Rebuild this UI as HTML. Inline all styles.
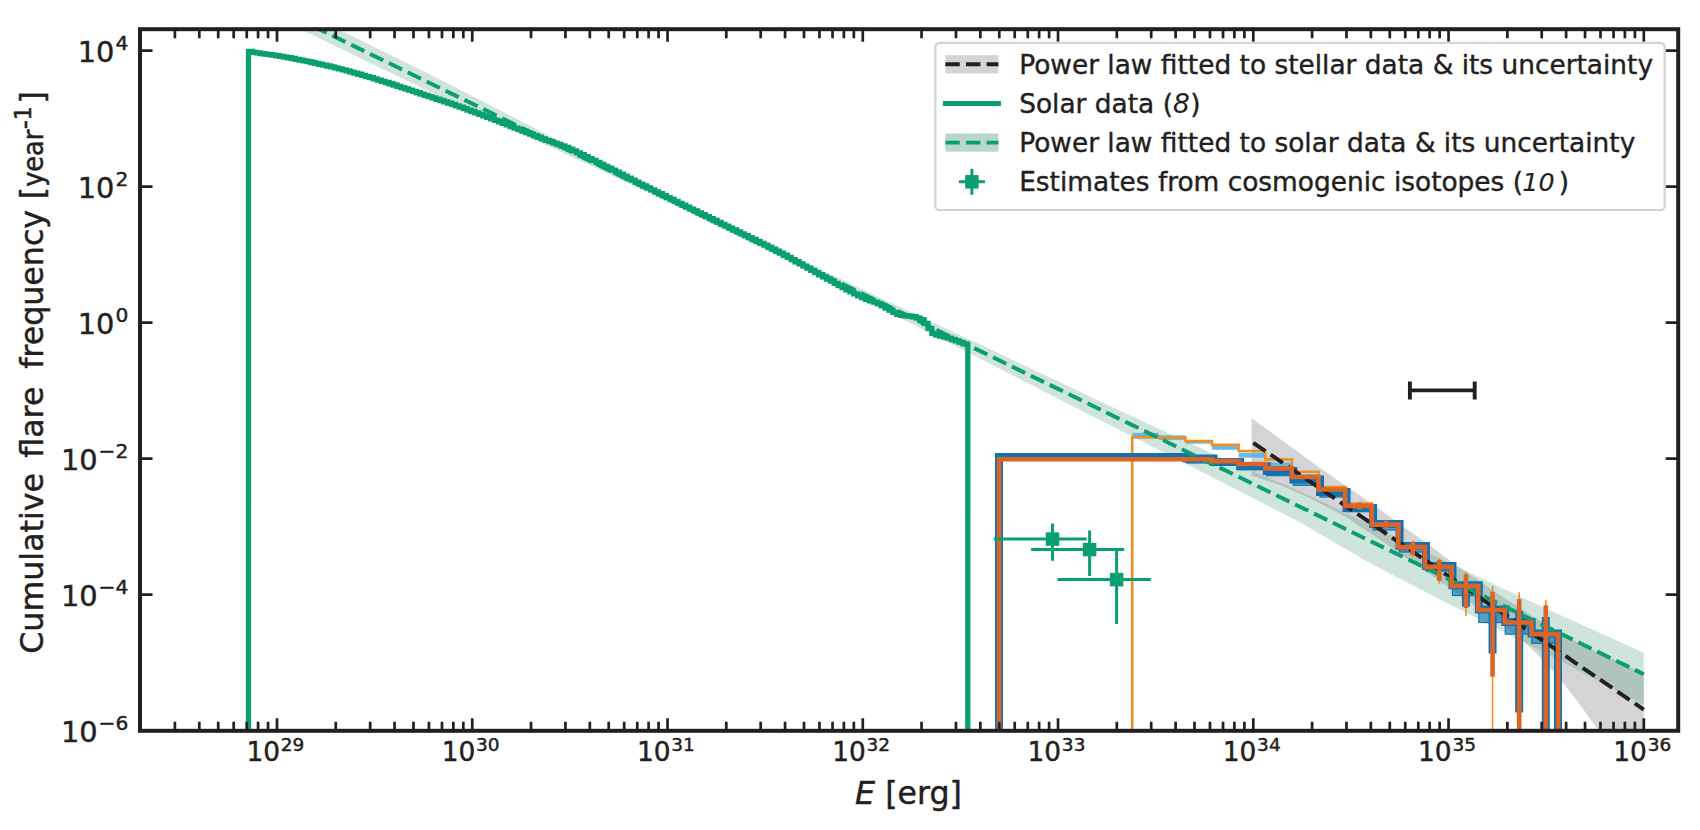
<!DOCTYPE html>
<html lang="en"><head><meta charset="utf-8"><title>Cumulative flare frequency</title>
<style>html,body{margin:0;padding:0;background:#fff}body{width:1700px;height:830px;overflow:hidden}</style></head>
<body>
<svg width="1700" height="830" viewBox="0 0 1700 830" style="display:block">
<rect width="1700" height="830" fill="#ffffff"/>
<defs><clipPath id="ax"><rect x="140.0" y="29.2" width="1538.2" height="701.5999999999999"/></clipPath></defs>
<g clip-path="url(#ax)">
<path d="M1251.5 418.07 L1320 467.96 L1375 505.92 L1401 524.98 L1430 545.49 L1456 565.24 L1500 595.3 L1561 633.96 L1600 653.6 L1643.8 673.51 L1643.8 849.51 L1625 788.67 L1610 752.43 L1596.6 727.97 L1578 702.07 L1560.5 679.82 L1545 662.03 L1523 640.51 L1503 625.35 L1470 602.31 L1430 574.49 L1384 542.57 L1346 517.11 L1307 496.48 L1280 485.04 L1251.5 475.57Z" fill="#b8babc" fill-opacity="0.62"/>
<path d="M300 10.82 L308 14.72 L316 18.61 L324 22.51 L332 26.41 L340 30.3 L348 34.2 L356 38.11 L364 42.03 L372 45.96 L380 49.89 L388 53.81 L396 57.74 L404 61.67 L412 65.59 L420 69.52 L428 73.45 L436 77.5 L444 81.59 L452 85.68 L460 89.77 L468 93.86 L476 97.95 L484 102.04 L492 106.13 L500 110.22 L508 114.38 L516 118.54 L524 122.7 L532 126.86 L540 131.03 L548 135.19 L556 139.35 L564 143.48 L572 147.58 L580 151.67 L588 155.77 L596 159.86 L604 163.96 L612 168.05 L620 172.15 L628 176.12 L636 180.08 L644 184.05 L652 188.01 L660 191.98 L668 195.94 L676 199.91 L684 203.88 L692 207.84 L700 211.81 L708 215.63 L716 219.45 L724 223.27 L732 227.09 L740 230.91 L748 234.73 L756 238.55 L764 242.38 L772 246.2 L780 250.02 L788 253.84 L796 257.66 L804 261.48 L812 265.3 L820 269.12 L828 272.94 L836 276.76 L844 280.59 L852 284.39 L860 288.14 L868 291.89 L876 295.64 L884 299.4 L892 303.15 L900 306.9 L908 310.65 L916 314.4 L924 318.15 L932 321.91 L940 325.66 L948 329.41 L956 333.18 L964 336.97 L972 340.75 L980 344.53 L988 348.31 L996 352.1 L1004 355.88 L1012 359.66 L1020 363.44 L1028 367.23 L1036 371.01 L1044 374.79 L1052 378.57 L1060 382.35 L1068 386.12 L1076 389.89 L1084 393.65 L1092 397.42 L1100 401.19 L1108 404.96 L1116 408.73 L1124 412.49 L1132 416.26 L1140 420.03 L1148 423.8 L1156 427.51 L1164 431.21 L1172 434.9 L1180 438.6 L1188 442.29 L1196 445.99 L1204 449.69 L1212 453.38 L1220 457.08 L1228 460.77 L1236 464.2 L1244 467.55 L1252 470.89 L1260 474.24 L1268 477.58 L1276 480.92 L1284 484.27 L1292 487.76 L1300 491.41 L1308 495.05 L1316 498.7 L1324 502.46 L1332 506.32 L1340 510.19 L1348 514.05 L1356 517.92 L1364 521.78 L1372 525.65 L1380 529.51 L1388 533.38 L1396 537.25 L1404 541.11 L1412 544.98 L1420 548.84 L1428 552.71 L1436 556.57 L1444 560.44 L1452 564.31 L1460 568.12 L1468 571.93 L1476 575.74 L1484 579.55 L1492 583.36 L1500 587.18 L1508 590.87 L1516 594.57 L1524 598.26 L1532 601.96 L1540 605.65 L1548 609.35 L1556 613.05 L1564 616.7 L1572 620.31 L1580 623.92 L1588 627.53 L1596 631.13 L1604 634.74 L1612 638.35 L1620 641.96 L1628 645.57 L1636 649.18 L1643.8 652.7 L1643.8 704.7 L1636 700.61 L1628 696.42 L1620 692.22 L1612 688.03 L1604 683.83 L1596 679.64 L1588 675.45 L1580 671.25 L1572 667.06 L1564 662.86 L1556 658.67 L1548 654.5 L1540 650.42 L1532 646.33 L1524 642.25 L1516 638.16 L1508 634.08 L1500 630 L1492 625.91 L1484 621.83 L1476 617.74 L1468 613.66 L1460 609.57 L1452 605.49 L1444 601.41 L1436 597.29 L1428 593.17 L1420 589.05 L1412 584.93 L1404 580.82 L1396 576.7 L1388 572.58 L1380 568.46 L1372 564.34 L1364 559.67 L1356 555 L1348 550.32 L1340 545.65 L1332 540.98 L1324 536.3 L1316 531.63 L1308 526.96 L1300 522.28 L1292 518.16 L1284 514.03 L1276 509.91 L1268 505.79 L1260 501.66 L1252 497.54 L1244 493.41 L1236 489.29 L1228 485.18 L1220 481.1 L1212 477.03 L1204 472.96 L1196 468.88 L1188 464.81 L1180 460.74 L1172 456.66 L1164 452.59 L1156 448.52 L1148 444.44 L1140 440.37 L1132 436.29 L1124 432.21 L1116 428.14 L1108 424.06 L1100 419.98 L1092 415.9 L1084 411.83 L1076 407.75 L1068 403.67 L1060 399.59 L1052 395.52 L1044 391.44 L1036 387.36 L1028 383.28 L1020 379.18 L1012 375.09 L1004 370.99 L996 366.9 L988 362.8 L980 358.71 L972 354.61 L964 350.51 L956 346.42 L948 342.32 L940 338.23 L932 334.13 L924 330.04 L916 325.94 L908 321.85 L900 317.75 L892 313.65 L884 309.56 L876 305.46 L868 301.37 L860 297.27 L852 293.18 L844 289.16 L836 285.18 L828 281.19 L820 277.2 L812 273.22 L804 269.23 L796 265.24 L788 261.26 L780 257.27 L772 253.28 L764 249.3 L756 245.31 L748 241.33 L740 237.34 L732 233.35 L724 229.37 L716 225.38 L708 221.39 L700 217.41 L692 213.58 L684 209.76 L676 205.93 L668 202.1 L660 198.28 L652 194.45 L644 190.63 L636 186.8 L628 182.98 L620 179.15 L612 175.45 L604 171.76 L596 168.06 L588 164.37 L580 160.67 L572 156.98 L564 153.28 L556 149.62 L548 145.99 L540 142.36 L532 138.73 L524 135.1 L516 131.47 L508 127.84 L500 124.22 L492 120.51 L484 116.81 L476 113.11 L468 109.41 L460 105.71 L452 102.01 L444 98.31 L436 94.6 L428 90.86 L420 87 L412 83.13 L404 79.27 L396 75.4 L388 71.54 L380 67.67 L372 63.81 L364 59.94 L356 56.08 L348 52.2 L340 48.3 L332 44.41 L324 40.51 L316 36.61 L308 32.72 L300 28.82Z" fill="#4f9c78" fill-opacity="0.27"/>
<rect x="1132.2" y="432.9" width="26.62" height="5.7" fill="#56b4e9" fill-opacity="0.9"/>
<rect x="1158.82" y="435.3" width="26.62" height="4.7" fill="#56b4e9" fill-opacity="0.9"/>
<rect x="1185.44" y="441" width="26.62" height="2.7" fill="#56b4e9" fill-opacity="0.9"/>
<rect x="1212.06" y="445.5" width="26.62" height="4.3" fill="#56b4e9" fill-opacity="0.9"/>
<rect x="1238.68" y="452.8" width="26.62" height="4.8" fill="#56b4e9" fill-opacity="0.9"/>
<rect x="1265.3" y="462.4" width="26.62" height="3.6" fill="#56b4e9" fill-opacity="0.9"/>
<rect x="1291.92" y="474" width="26.62" height="4" fill="#56b4e9" fill-opacity="0.9"/>
<rect x="1318.54" y="489" width="26.62" height="3" fill="#56b4e9" fill-opacity="0.9"/>
<rect x="1345.16" y="505" width="26.62" height="3" fill="#56b4e9" fill-opacity="0.9"/>
<rect x="1371.78" y="524" width="26.62" height="3" fill="#56b4e9" fill-opacity="0.9"/>
<path d="M1132.2 730.8 L1132.2 437.1 L1158.82 437.1 L1158.82 437.6 L1185.44 437.6 L1185.44 441.1 L1212.06 441.1 L1212.06 444.9 L1238.68 444.9 L1238.68 451 L1265.3 451 L1265.3 459.4 L1291.92 459.4 L1291.92 471.7 L1318.54 471.7 L1318.54 487.1 L1345.16 487.1 L1345.16 503.5 L1371.78 503.5 L1371.78 522.5 L1398.4 522.5 L1398.4 546 L1425.02 546 L1425.02 566 L1451.64 566 L1451.64 585.5 L1478.26 585.5 L1478.26 609.5 L1504.88 609.5 L1504.88 622 L1531.5 622 L1531.5 633.8 L1558.12 633.8 L1558.12 730.8" fill="none" stroke="#ee8f22" stroke-width="2.6" stroke-linejoin="miter"/>
<line x1="1412.71" x2="1412.71" y1="540.8" y2="557.2" stroke="#ee8f22" stroke-width="1.6"/>
<line x1="1439.33" x2="1439.33" y1="558.2" y2="583.7" stroke="#ee8f22" stroke-width="1.6"/>
<line x1="1465.95" x2="1465.95" y1="571.4" y2="616.3" stroke="#ee8f22" stroke-width="1.6"/>
<line x1="1492.57" x2="1492.57" y1="585.9" y2="730.8" stroke="#ee8f22" stroke-width="1.6"/>
<line x1="1519.19" x2="1519.19" y1="592.2" y2="730.8" stroke="#ee8f22" stroke-width="1.6"/>
<line x1="1545.81" x2="1545.81" y1="600" y2="730.8" stroke="#ee8f22" stroke-width="1.6"/>
<rect x="1186.73" y="458.4" width="26.62" height="4.6" fill="#0f72b5" fill-opacity="0.6" stroke="#0f72b5" stroke-width="1.2"/>
<rect x="1213.45" y="462.1" width="26.62" height="1.4" fill="#0f72b5" fill-opacity="0.6" stroke="#0f72b5" stroke-width="1.2"/>
<rect x="1240.14" y="466.2" width="26.62" height="3.4" fill="#0f72b5" fill-opacity="0.6" stroke="#0f72b5" stroke-width="1.2"/>
<rect x="1266.8" y="471" width="26.62" height="4.7" fill="#0f72b5" fill-opacity="0.6" stroke="#0f72b5" stroke-width="1.2"/>
<rect x="1293.42" y="479.5" width="26.62" height="5.8" fill="#0f72b5" fill-opacity="0.6" stroke="#0f72b5" stroke-width="1.2"/>
<rect x="1320" y="492" width="26.62" height="5" fill="#0f72b5" fill-opacity="0.6" stroke="#0f72b5" stroke-width="1.2"/>
<rect x="1346.55" y="507.9" width="26.62" height="3.8" fill="#0f72b5" fill-opacity="0.6" stroke="#0f72b5" stroke-width="1.2"/>
<rect x="1373.07" y="524" width="26.62" height="6" fill="#0f72b5" fill-opacity="0.6" stroke="#0f72b5" stroke-width="1.2"/>
<rect x="1399.55" y="546.1" width="26.62" height="5.9" fill="#0f72b5" fill-opacity="0.6" stroke="#0f72b5" stroke-width="1.2"/>
<rect x="1426.01" y="565.9" width="26.62" height="5.1" fill="#0f72b5" fill-opacity="0.6" stroke="#0f72b5" stroke-width="1.2"/>
<rect x="1452.44" y="585.2" width="26.62" height="10.3" fill="#0f72b5" fill-opacity="0.6" stroke="#0f72b5" stroke-width="1.2"/>
<rect x="1478.85" y="609.4" width="26.62" height="13.1" fill="#0f72b5" fill-opacity="0.6" stroke="#0f72b5" stroke-width="1.2"/>
<rect x="1505.25" y="621.9" width="26.62" height="12.2" fill="#0f72b5" fill-opacity="0.6" stroke="#0f72b5" stroke-width="1.2"/>
<rect x="1531.64" y="633.5" width="26.62" height="9.8" fill="#0f72b5" fill-opacity="0.6" stroke="#0f72b5" stroke-width="1.2"/>
<line x1="1465.95" x2="1465.95" y1="583" y2="606.6" stroke="#0f72b5" stroke-width="8"/>
<line x1="1492.57" x2="1492.57" y1="603" y2="653.5" stroke="#0f72b5" stroke-width="8"/>
<line x1="1519.19" x2="1519.19" y1="611" y2="712.4" stroke="#0f72b5" stroke-width="8"/>
<line x1="1545.81" x2="1545.81" y1="617" y2="730.8" stroke="#0f72b5" stroke-width="8"/>
<path d="M999 730.8 L999 457 L1025.86 457 L1025.86 457 L1052.71 457 L1052.71 457 L1079.55 457 L1079.55 457 L1106.38 457 L1106.38 457 L1133.19 457 L1133.19 457 L1159.97 457 L1159.97 457 L1186.73 457 L1186.73 458.4 L1213.45 458.4 L1213.45 462.1 L1240.14 462.1 L1240.14 466.2 L1266.8 466.2 L1266.8 471 L1293.42 471 L1293.42 479.5 L1320 479.5 L1320 492 L1346.55 492 L1346.55 507.9 L1373.07 507.9 L1373.07 524 L1399.55 524 L1399.55 546.1 L1426.01 546.1 L1426.01 565.9 L1452.44 565.9 L1452.44 585.2 L1478.85 585.2 L1478.85 609.4 L1505.25 609.4 L1505.25 621.9 L1531.64 621.9 L1531.64 633.5 L1558.02 633.5 L1558.02 730.8" fill="none" stroke="#0f72b5" stroke-width="8" stroke-linejoin="miter"/>
<path d="M1253.3 442.8 L1643.8 709.51" stroke="#231f20" stroke-width="3.95" stroke-dasharray="14.7 6.3" fill="none"/>
<path d="M313.34 26.32 L1643.8 674.2" stroke="#0a9e73" stroke-width="3.95" stroke-dasharray="14.7 6.3" fill="none"/>
<path d="M248.5 730.8 L248.5 51.4 L248.5 51.4 L252.41 51.4 L252.41 52.36 L256.31 52.36 L256.31 52.96 L260.21 52.96 L260.21 53.54 L264.12 53.54 L264.12 54.1 L268.02 54.1 L268.02 54.62 L271.93 54.62 L271.93 55.16 L275.83 55.16 L275.83 55.73 L279.74 55.73 L279.74 56.37 L283.64 56.37 L283.64 57.05 L287.55 57.05 L287.55 57.77 L291.45 57.77 L291.45 58.52 L295.36 58.52 L295.36 59.29 L299.26 59.29 L299.26 60.07 L303.17 60.07 L303.17 60.86 L307.07 60.86 L307.07 61.68 L310.98 61.68 L310.98 62.51 L314.88 62.51 L314.88 63.36 L318.79 63.36 L318.79 64.23 L322.69 64.23 L322.69 65.11 L326.6 65.11 L326.6 66 L330.5 66 L330.5 66.92 L334.41 66.92 L334.41 67.87 L338.31 67.87 L338.31 68.87 L342.22 68.87 L342.22 69.91 L346.12 69.91 L346.12 70.96 L350.03 70.96 L350.03 72.04 L353.93 72.04 L353.93 73.13 L357.84 73.13 L357.84 74.25 L361.74 74.25 L361.74 75.38 L365.65 75.38 L365.65 76.53 L369.55 76.53 L369.55 77.69 L373.46 77.69 L373.46 78.87 L377.36 78.87 L377.36 80.07 L381.27 80.07 L381.27 81.28 L385.17 81.28 L385.17 82.51 L389.08 82.51 L389.08 83.75 L392.98 83.75 L392.98 85.01 L396.89 85.01 L396.89 86.29 L400.79 86.29 L400.79 87.57 L404.7 87.57 L404.7 88.86 L408.6 88.86 L408.6 90.15 L412.51 90.15 L412.51 91.45 L416.41 91.45 L416.41 92.75 L420.32 92.75 L420.32 94.06 L424.22 94.06 L424.22 95.36 L428.13 95.36 L428.13 96.66 L432.03 96.66 L432.03 97.94 L435.94 97.94 L435.94 99.23 L439.84 99.23 L439.84 100.51 L443.75 100.51 L443.75 101.81 L447.65 101.81 L447.65 103.12 L451.56 103.12 L451.56 104.45 L455.46 104.45 L455.46 105.82 L459.37 105.82 L459.37 107.22 L463.27 107.22 L463.27 108.63 L467.18 108.63 L467.18 110.05 L471.08 110.05 L471.08 111.48 L474.99 111.48 L474.99 112.93 L478.89 112.93 L478.89 114.39 L482.8 114.39 L482.8 115.87 L486.7 115.87 L486.7 117.35 L490.61 117.35 L490.61 118.84 L494.51 118.84 L494.51 120.35 L498.42 120.35 L498.42 121.87 L502.32 121.87 L502.32 123.41 L506.23 123.41 L506.23 124.96 L510.13 124.96 L510.13 126.52 L514.04 126.52 L514.04 128.07 L517.94 128.07 L517.94 129.61 L521.85 129.61 L521.85 131.15 L525.75 131.15 L525.75 132.68 L529.66 132.68 L529.66 134.21 L533.56 134.21 L533.56 135.73 L537.47 135.73 L537.47 137.26 L541.37 137.26 L541.37 138.78 L545.28 138.78 L545.28 140.28 L549.18 140.28 L549.18 141.71 L553.09 141.71 L553.09 143.1 L556.99 143.1 L556.99 144.49 L560.9 144.49 L560.9 145.92 L564.8 145.92 L564.8 147.44 L568.71 147.44 L568.71 149.1 L572.61 149.1 L572.61 150.93 L576.52 150.93 L576.52 152.83 L580.42 152.83 L580.42 154.75 L584.33 154.75 L584.33 156.66 L588.23 156.66 L588.23 158.59 L592.14 158.59 L592.14 160.51 L596.04 160.51 L596.04 162.44 L599.95 162.44 L599.95 164.37 L603.85 164.37 L603.85 166.31 L607.76 166.31 L607.76 168.24 L611.66 168.24 L611.66 170.18 L615.57 170.18 L615.57 172.14 L619.47 172.14 L619.47 174.11 L623.38 174.11 L623.38 176.09 L627.28 176.09 L627.28 178.07 L631.19 178.07 L631.19 180.06 L635.09 180.06 L635.09 182.05 L639 182.05 L639 184.03 L642.9 184.03 L642.9 186.01 L646.81 186.01 L646.81 187.97 L650.71 187.97 L650.71 189.92 L654.62 189.92 L654.62 191.85 L658.52 191.85 L658.52 193.77 L662.43 193.77 L662.43 195.68 L666.33 195.68 L666.33 197.59 L670.24 197.59 L670.24 199.51 L674.14 199.51 L674.14 201.42 L678.05 201.42 L678.05 203.33 L681.95 203.33 L681.95 205.24 L685.86 205.24 L685.86 207.14 L689.76 207.14 L689.76 209.05 L693.67 209.05 L693.67 210.96 L697.57 210.96 L697.57 212.87 L701.48 212.87 L701.48 214.77 L705.38 214.77 L705.38 216.68 L709.29 216.68 L709.29 218.58 L713.19 218.58 L713.19 220.48 L717.1 220.48 L717.1 222.39 L721 222.39 L721 224.29 L724.91 224.29 L724.91 226.19 L728.81 226.19 L728.81 228.09 L732.72 228.09 L732.72 229.99 L736.62 229.99 L736.62 231.89 L740.53 231.89 L740.53 233.79 L744.43 233.79 L744.43 235.7 L748.34 235.7 L748.34 237.6 L752.24 237.6 L752.24 239.5 L756.15 239.5 L756.15 241.4 L760.05 241.4 L760.05 243.3 L763.96 243.3 L763.96 245.2 L767.86 245.2 L767.86 247.11 L771.77 247.11 L771.77 249.03 L775.67 249.03 L775.67 251.04 L779.58 251.04 L779.58 253.12 L783.48 253.12 L783.48 255.24 L787.39 255.24 L787.39 257.4 L791.29 257.4 L791.29 259.57 L795.2 259.57 L795.2 261.74 L799.1 261.74 L799.1 263.88 L803.01 263.88 L803.01 266.04 L806.91 266.04 L806.91 268.22 L810.82 268.22 L810.82 270.4 L814.72 270.4 L814.72 272.58 L818.63 272.58 L818.63 274.74 L822.53 274.74 L822.53 276.88 L826.44 276.88 L826.44 279.03 L830.34 279.03 L830.34 281.19 L834.25 281.19 L834.25 283.36 L838.15 283.36 L838.15 285.51 L842.06 285.51 L842.06 287.65 L845.96 287.65 L845.96 289.76 L849.87 289.76 L849.87 291.83 L853.77 291.83 L853.77 293.86 L857.68 293.86 L857.68 295.83 L861.58 295.83 L861.58 297.71 L865.49 297.71 L865.49 299.32 L869.39 299.32 L869.39 300.75 L873.3 300.75 L873.3 302.21 L877.2 302.21 L877.2 303.86 L881.11 303.86 L881.11 305.83 L885.01 305.83 L885.01 307.99 L888.92 307.99 L888.92 310.21 L892.82 310.21 L892.82 312.37 L896.73 312.37 L896.73 314.34 L900.63 314.34 L900.63 315.47 L904.54 315.47 L904.54 315.9 L908.44 315.9 L908.44 316.15 L912.35 316.15 L912.35 316.77 L916.25 316.77 L916.25 318.11 L920.16 318.11 L920.16 319.77 L924.06 319.77 L924.06 323.35 L927.97 323.35 L927.97 328.34 L931.87 328.34 L931.87 333.46 L935.78 333.46 L935.78 335.05 L939.68 335.05 L939.68 336.15 L943.59 336.15 L943.59 337.07 L947.49 337.07 L947.49 338.16 L951.4 338.16 L951.4 339.52 L955.3 339.52 L955.3 340.92 L959.21 340.92 L959.21 342.38 L963.11 342.38 L963.11 343.9 L967.02 343.9 L967.02 344.85 L967.8 344.85 L967.8 730.8" fill="none" stroke="#0a9e73" stroke-width="5.3" stroke-linejoin="miter"/>
<path d="M999.1 730.8 L999.1 459.3 L1025.72 459.3 L1025.72 459.3 L1052.34 459.3 L1052.34 459.3 L1078.96 459.3 L1078.96 459.3 L1105.58 459.3 L1105.58 459.3 L1132.2 459.3 L1132.2 459.3 L1158.82 459.3 L1158.82 459.3 L1185.44 459.3 L1185.44 459.3 L1212.06 459.3 L1212.06 461.1 L1238.68 461.1 L1238.68 464 L1265.3 464 L1265.3 468.4 L1291.92 468.4 L1291.92 477 L1318.54 477 L1318.54 489.5 L1345.16 489.5 L1345.16 505.9 L1371.78 505.9 L1371.78 524.6 L1398.4 524.6 L1398.4 547.1 L1425.02 547.1 L1425.02 566.9 L1451.64 566.9 L1451.64 586 L1478.26 586 L1478.26 610 L1504.88 610 L1504.88 622.5 L1531.5 622.5 L1531.5 634.1 L1558.12 634.1 L1558.12 730.8" fill="none" stroke="#dd6427" stroke-width="4.6" stroke-linejoin="miter"/>
<line x1="1359.47" x2="1359.47" y1="502.5" y2="509.5" stroke="#dd6427" stroke-width="4.6"/>
<line x1="1386.09" x2="1386.09" y1="520.6" y2="528.3" stroke="#dd6427" stroke-width="4.6"/>
<line x1="1412.71" x2="1412.71" y1="541.8" y2="555.3" stroke="#dd6427" stroke-width="4.6"/>
<line x1="1439.33" x2="1439.33" y1="560" y2="580.8" stroke="#dd6427" stroke-width="4.6"/>
<line x1="1465.95" x2="1465.95" y1="574.3" y2="608.1" stroke="#dd6427" stroke-width="4.6"/>
<line x1="1492.57" x2="1492.57" y1="591.7" y2="676.7" stroke="#dd6427" stroke-width="4.6"/>
<line x1="1519.19" x2="1519.19" y1="598.9" y2="730.8" stroke="#dd6427" stroke-width="4.6"/>
<line x1="1545.81" x2="1545.81" y1="605.2" y2="730.8" stroke="#dd6427" stroke-width="4.6"/>
<line x1="993.8" x2="1086.6" y1="539.1" y2="539.1" stroke="#0a9e73" stroke-width="3"/>
<line x1="1052.5" x2="1052.5" y1="523.6" y2="560.7" stroke="#0a9e73" stroke-width="3"/>
<rect x="1045.75" y="532.35" width="13.5" height="13.5" fill="#0a9e73"/>
<line x1="1031.1" x2="1124.2" y1="549.6" y2="549.6" stroke="#0a9e73" stroke-width="3"/>
<line x1="1089.6" x2="1089.6" y1="530.4" y2="575.9" stroke="#0a9e73" stroke-width="3"/>
<rect x="1082.85" y="542.85" width="13.5" height="13.5" fill="#0a9e73"/>
<line x1="1057.6" x2="1150.8" y1="579.6" y2="579.6" stroke="#0a9e73" stroke-width="3"/>
<line x1="1116.6" x2="1116.6" y1="549.6" y2="623.9" stroke="#0a9e73" stroke-width="3"/>
<rect x="1109.85" y="572.85" width="13.5" height="13.5" fill="#0a9e73"/>
<path d="M1409.9 390.4H1474.7M1409.9 381.6V399.4M1474.7 381.6V399.4" stroke="#231f20" stroke-width="3.9" fill="none"/>
</g>
<path d="M174.9 730.8v-9.0M174.9 29.2v9.0M199.3 730.8v-9.0M199.3 29.2v9.0M218.22 730.8v-9.0M218.22 29.2v9.0M233.68 730.8v-9.0M233.68 29.2v9.0M246.75 730.8v-9.0M246.75 29.2v9.0M258.08 730.8v-9.0M258.08 29.2v9.0M268.07 730.8v-9.0M268.07 29.2v9.0M277 730.8v-12.5M277 29.2v12.5M335.78 730.8v-9.0M335.78 29.2v9.0M370.16 730.8v-9.0M370.16 29.2v9.0M394.56 730.8v-9.0M394.56 29.2v9.0M413.48 730.8v-9.0M413.48 29.2v9.0M428.94 730.8v-9.0M428.94 29.2v9.0M442.01 730.8v-9.0M442.01 29.2v9.0M453.34 730.8v-9.0M453.34 29.2v9.0M463.33 730.8v-9.0M463.33 29.2v9.0M472.26 730.8v-12.5M472.26 29.2v12.5M531.04 730.8v-9.0M531.04 29.2v9.0M565.42 730.8v-9.0M565.42 29.2v9.0M589.82 730.8v-9.0M589.82 29.2v9.0M608.74 730.8v-9.0M608.74 29.2v9.0M624.2 730.8v-9.0M624.2 29.2v9.0M637.27 730.8v-9.0M637.27 29.2v9.0M648.6 730.8v-9.0M648.6 29.2v9.0M658.59 730.8v-9.0M658.59 29.2v9.0M667.52 730.8v-12.5M667.52 29.2v12.5M726.3 730.8v-9.0M726.3 29.2v9.0M760.68 730.8v-9.0M760.68 29.2v9.0M785.08 730.8v-9.0M785.08 29.2v9.0M804 730.8v-9.0M804 29.2v9.0M819.46 730.8v-9.0M819.46 29.2v9.0M832.53 730.8v-9.0M832.53 29.2v9.0M843.86 730.8v-9.0M843.86 29.2v9.0M853.85 730.8v-9.0M853.85 29.2v9.0M862.78 730.8v-12.5M862.78 29.2v12.5M921.56 730.8v-9.0M921.56 29.2v9.0M955.94 730.8v-9.0M955.94 29.2v9.0M980.34 730.8v-9.0M980.34 29.2v9.0M999.26 730.8v-9.0M999.26 29.2v9.0M1014.72 730.8v-9.0M1014.72 29.2v9.0M1027.79 730.8v-9.0M1027.79 29.2v9.0M1039.12 730.8v-9.0M1039.12 29.2v9.0M1049.11 730.8v-9.0M1049.11 29.2v9.0M1058.04 730.8v-12.5M1058.04 29.2v12.5M1116.82 730.8v-9.0M1116.82 29.2v9.0M1151.2 730.8v-9.0M1151.2 29.2v9.0M1175.6 730.8v-9.0M1175.6 29.2v9.0M1194.52 730.8v-9.0M1194.52 29.2v9.0M1209.98 730.8v-9.0M1209.98 29.2v9.0M1223.05 730.8v-9.0M1223.05 29.2v9.0M1234.38 730.8v-9.0M1234.38 29.2v9.0M1244.37 730.8v-9.0M1244.37 29.2v9.0M1253.3 730.8v-12.5M1253.3 29.2v12.5M1312.08 730.8v-9.0M1312.08 29.2v9.0M1346.46 730.8v-9.0M1346.46 29.2v9.0M1370.86 730.8v-9.0M1370.86 29.2v9.0M1389.78 730.8v-9.0M1389.78 29.2v9.0M1405.24 730.8v-9.0M1405.24 29.2v9.0M1418.31 730.8v-9.0M1418.31 29.2v9.0M1429.64 730.8v-9.0M1429.64 29.2v9.0M1439.63 730.8v-9.0M1439.63 29.2v9.0M1448.56 730.8v-12.5M1448.56 29.2v12.5M1507.34 730.8v-9.0M1507.34 29.2v9.0M1541.72 730.8v-9.0M1541.72 29.2v9.0M1566.12 730.8v-9.0M1566.12 29.2v9.0M1585.04 730.8v-9.0M1585.04 29.2v9.0M1600.5 730.8v-9.0M1600.5 29.2v9.0M1613.57 730.8v-9.0M1613.57 29.2v9.0M1624.9 730.8v-9.0M1624.9 29.2v9.0M1634.89 730.8v-9.0M1634.89 29.2v9.0M1643.82 730.8v-12.5M1643.82 29.2v12.5M140.0 50.6h12.5M1678.2 50.6h-12.5M140.0 186.6h12.5M1678.2 186.6h-12.5M140.0 322.6h12.5M1678.2 322.6h-12.5M140.0 458.6h12.5M1678.2 458.6h-12.5M140.0 594.6h12.5M1678.2 594.6h-12.5" stroke="#231f20" stroke-width="2.7" fill="none"/>
<rect x="140.0" y="29.2" width="1538.2" height="701.5999999999999" fill="none" stroke="#231f20" stroke-width="4"/>
<g font-family="'DejaVu Sans','Liberation Sans',sans-serif" fill="#231f20" stroke="#231f20" stroke-width="0.45" stroke-linejoin="round">
<text x="275.4" y="761.4" text-anchor="middle" font-size="26.4">10<tspan font-size="18.5" dx="0.8" dy="-10.9">29</tspan></text>
<text x="470.66" y="761.4" text-anchor="middle" font-size="26.4">10<tspan font-size="18.5" dx="0.8" dy="-10.9">30</tspan></text>
<text x="665.92" y="761.4" text-anchor="middle" font-size="26.4">10<tspan font-size="18.5" dx="0.8" dy="-10.9">31</tspan></text>
<text x="861.18" y="761.4" text-anchor="middle" font-size="26.4">10<tspan font-size="18.5" dx="0.8" dy="-10.9">32</tspan></text>
<text x="1056.44" y="761.4" text-anchor="middle" font-size="26.4">10<tspan font-size="18.5" dx="0.8" dy="-10.9">33</tspan></text>
<text x="1251.7" y="761.4" text-anchor="middle" font-size="26.4">10<tspan font-size="18.5" dx="0.8" dy="-10.9">34</tspan></text>
<text x="1446.96" y="761.4" text-anchor="middle" font-size="26.4">10<tspan font-size="18.5" dx="0.8" dy="-10.9">35</tspan></text>
<text x="1642.22" y="761.4" text-anchor="middle" font-size="26.4">10<tspan font-size="18.5" dx="0.8" dy="-10.9">36</tspan></text>
<text x="128.3" y="61.5" text-anchor="end" font-size="28.8">10<tspan font-size="20.2" dx="1.0" dy="-11.1">4</tspan></text>
<text x="128.3" y="197.5" text-anchor="end" font-size="28.8">10<tspan font-size="20.2" dx="1.0" dy="-11.1">2</tspan></text>
<text x="128.3" y="333.5" text-anchor="end" font-size="28.8">10<tspan font-size="20.2" dx="1.0" dy="-11.1">0</tspan></text>
<text x="128.3" y="469.5" text-anchor="end" font-size="28.8">10<tspan font-size="20.2" dx="1.0" dy="-11.1">−2</tspan></text>
<text x="128.3" y="605.5" text-anchor="end" font-size="28.8">10<tspan font-size="20.2" dx="1.0" dy="-11.1">−4</tspan></text>
<text x="128.3" y="741.5" text-anchor="end" font-size="28.8">10<tspan font-size="20.2" dx="1.0" dy="-11.1">−6</tspan></text>
<text x="908.5" y="804" text-anchor="middle" font-size="31.7"><tspan font-style="italic">E</tspan> [erg]</text>
<text transform="translate(43.1 652) rotate(-90)" font-size="31.7" style="white-space:pre"><tspan x="-1.8">Cumulative</tspan><tspan x="194.2">flare</tspan><tspan x="283.2">frequency</tspan><tspan x="452.8">[</tspan><tspan font-size="28.5" font-stretch="condensed" dx="0">year</tspan><tspan font-size="26" dy="-10.5" dx="0.5">-</tspan><tspan font-size="22.2" dy="-1.5" dx="-0.5">1</tspan><tspan dy="12" dx="2.5">]</tspan></text>
</g>
<rect x="935.3" y="42.9" width="729.4" height="167.1" rx="4.5" fill="#ffffff" fill-opacity="0.8" stroke="#d1d3d4" stroke-width="2.2"/>
<rect x="945.4" y="55.199999999999996" width="53.0" height="18.2" fill="#b8babc" fill-opacity="0.62"/>
<line x1="945.4" x2="998.4" y1="64.3" y2="64.3" stroke="#231f20" stroke-width="3.9" stroke-dasharray="14.4 6.2"/>
<line x1="942.9" x2="1000.9" y1="103.6" y2="103.6" stroke="#0a9e73" stroke-width="5"/>
<rect x="945.4" y="133.5" width="53.0" height="18.2" fill="#4f9c78" fill-opacity="0.4"/>
<line x1="945.4" x2="998.4" y1="142.6" y2="142.6" stroke="#0a9e73" stroke-width="3.9" stroke-dasharray="14.4 6.2"/>
<path d="M958.9 181.8h26M971.9 168.8v26" stroke="#0a9e73" stroke-width="3" fill="none"/>
<rect x="965.15" y="175.05" width="13.5" height="13.5" fill="#0a9e73"/>
<g font-family="'DejaVu Sans','Liberation Sans',sans-serif" fill="#231f20" stroke="#231f20" stroke-width="0.4" stroke-linejoin="round" font-size="26.4" style="white-space:pre">
<text x="1019.2" y="73.6">Power law fitted to stellar data &amp; its uncertainty</text>
<text x="1019.2" y="112.7">Solar data (<tspan font-style="italic" stroke-width="0.1">8</tspan><tspan dx="0.5">)</tspan></text>
<text x="1019.2" y="151.9">Power law fitted to solar data &amp; its uncertainty</text>
<text x="1019.2" y="191.0">Estimates from cosmogenic isotopes (<tspan font-style="italic" stroke-width="0.1" font-size="25.4" dx="-0.8">10</tspan><tspan dx="4.2">)</tspan></text>
</g>
</svg>
</body></html>
